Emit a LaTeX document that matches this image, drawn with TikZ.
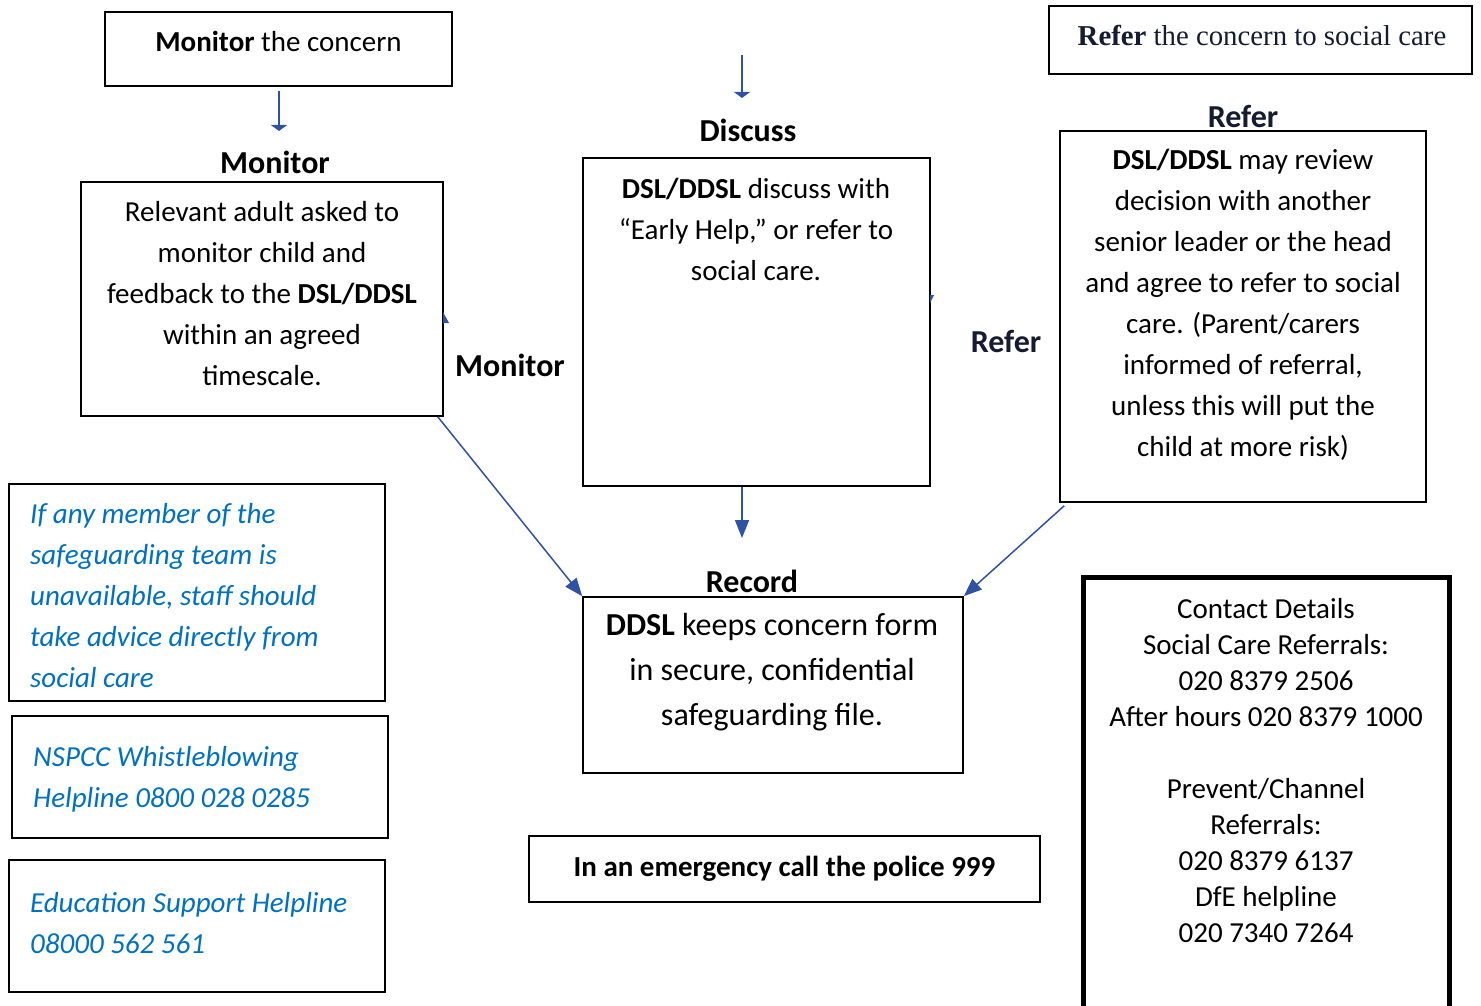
\documentclass[tikz,border=0pt]{standalone}
\usepackage{fontspec}
\setmainfont{Carlito}
\newfontfamily\timesfont{Liberation Serif}
\usetikzlibrary{arrows.meta,positioning}
\definecolor{sgblue}{RGB}{47,82,163}
\definecolor{sgtext}{RGB}{0,112,192}
\definecolor{sgnavy}{RGB}{22,27,48}

\tikzset{
  box/.style 2 args={draw, line width=1.6pt, minimum width=#1, minimum height=#2, inner sep=0pt},
  txt/.style={align=center, inner sep=0pt, font=\fontsize{29}{41}\selectfont},
  bluetxt/.style={align=left, anchor=west, inner sep=0pt, text=sgtext, font=\fontsize{29}{41}\selectfont\itshape},
  heading/.style={inner sep=0pt, font=\fontsize{32}{38}\selectfont\bfseries},
  flow/.style={sgblue, line width=1.5pt, -{Triangle[length=18pt,width=14pt]}},
  stub/.style={sgblue, line width=1.6pt, -{Triangle[length=6pt,width=16pt]}}
}

\begin{document}
\begin{tikzpicture}[x=1pt,y=-1pt]
\useasboundingbox (0,0) rectangle (1481,1006);
% --- Top row ---
\node[box={347pt}{74pt}] (topmon) at (278.5,49) {};
\node[txt] (topmontxt) at (278.5,41) {\textbf{Monitor} the concern};
\node[box={423pt}{68pt}] (topref) at (1260.5,40) {};
\node[text=sgnavy, inner sep=0pt, font=\fontsize{28.8}{34}\selectfont\timesfont] (topreftxt) at (1262,36) {\textbf{Refer} the concern to social care};
\coordinate (montip) at (279,131);
\coordinate (disctop) at (742,55);
\coordinate (disctip) at (742,98);
\draw[stub, shorten <=4pt] (topmon.south -| montip) -- (montip);
\draw[stub] (disctop) -- (disctip);
% --- Monitor ---
\node[heading] (monhead) at (275,162) {Monitor};
\node[box={362pt}{234pt}] (monbox) at (262,299) {};
\node[txt] (montxt) at (262,294) {Relevant adult asked to\\monitor child and\\feedback to the \textbf{DSL/DDSL}\\within an agreed\\timescale.};
\node[heading] (monlabel) at (510,365) {Monitor};
% --- Discuss ---
\node[heading] (dischead) at (748,130) {Discuss};
\node[box={347pt}{328pt}] (discbox) at (756.5,322) {};
\node[txt] (disctxt) at (756,229) {\textbf{DSL/DDSL} discuss with\\“Early Help,” or refer to\\social care.};
% --- Refer ---
\node[heading, text=sgnavy] (refhead) at (1243,117) {Refer};
\node[box={366pt}{371pt}] (refbox) at (1243,316.5) {};
\node[txt] (reftxt) at (1243,305) {\textbf{DSL/DDSL} may review\\decision with another\\senior leader or the head\\and agree to refer to social\\care. (Parent/carers\\informed of referral,\\unless this will put the\\child at more risk)};
\node[heading, text=sgnavy] (reflabel) at (1006,341) {Refer};
% hidden arrow tips
\fill[sgblue] (443,312) -- (449,323) -- (443,323) -- cycle;
\fill[sgblue] (930,295) -- (934,295) -- (930,303) -- cycle;
% --- Record ---
\node[heading] (rechead) at (752,581) {Record};
\node[box={380pt}{176pt}] (recbox) at (773,685) {};
\node[txt, font=\fontsize{32}{45}\selectfont] (rectxt) at (772,672) {\textbf{DDSL} keeps concern form\\in secure, confidential\\safeguarding file.};
\coordinate (rectip) at (742,538);
\draw[flow] ([xshift=-6pt]monbox.south east) -- (recbox.north west);
\draw[flow] (discbox.south -| rectip) -- (rectip);
\draw[flow] ([xshift=5pt,yshift=-3pt]refbox.south west) -- (recbox.north east);
% --- Helplines ---
\node[box={376pt}{217pt}] (help1) at (197,592.5) {};
\node[bluetxt] (help1txt) at (30,595.5) {If any member of the\\safeguarding team is\\unavailable, staff should\\take advice directly from\\social care};
\node[box={376pt}{122pt}] (help2) at (200,777) {};
\node[bluetxt] (help2txt) at (33,779.5) {NSPCC Whistleblowing\\Helpline 0800 028 0285};
\node[box={376pt}{132pt}] (help3) at (197,926) {};
\node[bluetxt] (help3txt) at (30,923.5) {Education Support Helpline\\08000 562 561};
% --- Emergency and contacts ---
\node[box={511pt}{66pt}, font=\fontsize{29}{35}\selectfont\bfseries] (emerg) at (784.5,869) {In an emergency call the police 999};
\node[box={366pt}{463pt}, line width=5pt] (contact) at (1266,808.5) {};
\node[txt, font=\fontsize{29}{36}\selectfont] (contacttxt) at (1266,770.5) {Contact Details\\Social Care Referrals:\\020 8379 2506\\After hours 020 8379 1000\\[36pt]Prevent/Channel\\Referrals:\\020 8379 6137\\DfE helpline\\020 7340 7264};
\end{tikzpicture}
\end{document}
